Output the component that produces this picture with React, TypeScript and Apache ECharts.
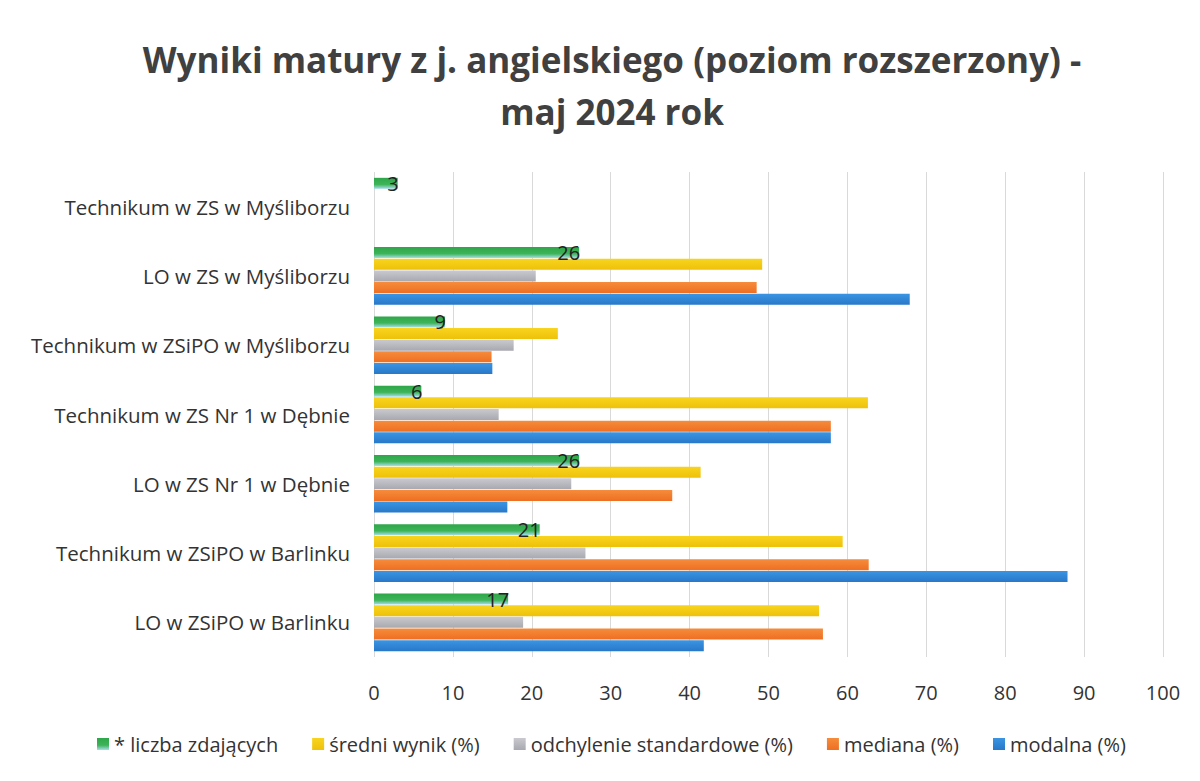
import React, { useEffect, useRef } from "react";
import * as echarts from "echarts";

const categories = [
  "LO w ZSiPO w Barlinku",
  "Technikum w ZSiPO w Barlinku",
  "LO w ZS Nr 1 w Dębnie",
  "Technikum w ZS Nr 1 w Dębnie",
  "Technikum w ZSiPO w Myśliborzu",
  "LO w ZS w Myśliborzu",
  "Technikum w ZS w Myśliborzu",
];
const liczbaZdajacych = [17, 21, 26, 6, 9, 26, 3];
const sredniWynik = [56.4, 59.4, 41.4, 62.6, 23.3, 49.2, null];
const odchylenie = [18.9, 26.8, 25.0, 15.8, 17.7, 20.5, null];
const mediana = [56.9, 62.7, 37.8, 57.9, 14.9, 48.5, null];
const modalna = [41.8, 87.9, 16.9, 57.9, 15.0, 67.9, null];
const xTicks = { min: 0, max: 100, interval: 10 };

const FONT = "'Open Sans', 'Noto Sans', sans-serif";

export default function App() {
  const ref = useRef<HTMLDivElement>(null);
  useEffect(() => {
    if (!ref.current) return;
    const chart = echarts.init(ref.current, null, { renderer: "svg" });
    const lg = (stops: [number, string][]) =>
      new echarts.graphic.LinearGradient(
        0,
        0,
        0,
        1,
        stops.map(([offset, color]) => ({ offset, color }))
      );
    const BW = 11;
    chart.setOption({
      animation: false,
      backgroundColor: "#ffffff",
      title: {
        text: "Wyniki matury z j. angielskiego (poziom rozszerzony) -\nmaj 2024 rok",
        left: 599,
        top: 20,
        textAlign: "center",
        textStyle: {
          fontFamily: FONT,
          fontWeight: "bold",
          fontSize: 35,
          color: "#404040",
          lineHeight: 52,
        },
      },
      legend: {
        bottom: 14,
        left: 84,
        itemWidth: 12,
        itemHeight: 12,
        itemGap: 34,
        icon: "rect",
        textStyle: { fontFamily: FONT, fontSize: 20, color: "#333" },
        data: [
          "* liczba zdających",
          "średni wynik (%)",
          "odchylenie standardowe (%)",
          "mediana (%)",
          "modalna (%)",
        ],
      },
      grid: { left: 366, right: 29, top: 164, bottom: 116, containLabel: false },
      xAxis: {
        type: "value",
        min: xTicks.min,
        max: xTicks.max,
        interval: xTicks.interval,
        axisLine: { show: false },
        axisTick: { show: false },
        axisLabel: { fontFamily: FONT, fontSize: 20, color: "#333", margin: 25 },
        splitLine: { lineStyle: { color: "#d9d9d9" } },
      },
      yAxis: {
        type: "category",
        data: categories,
        axisLine: { show: false },
        axisTick: { show: false },
        axisLabel: { fontFamily: FONT, fontSize: 20.5, color: "#333", margin: 24 },
      },
      series: [
        {
          name: "* liczba zdających",
          type: "bar",
          data: liczbaZdajacych,
          barWidth: BW,
          barGap: "6%",
          itemStyle: {
            color: lg([
              [0, "#2ea64a"],
              [0.6, "#3db457"],
              [1, "#a9dcf0"],
            ]),
          },
          label: {
            show: true,
            position: "insideRight",
            offset: [6, 0],
            fontFamily: FONT,
            fontSize: 20,
            color: "#222",
          },
        },
        {
          name: "średni wynik (%)",
          type: "bar",
          data: sredniWynik,
          barWidth: BW,
          itemStyle: { color: lg([[0, "#f8d41e"], [1, "#eec10a"]]) },
        },
        {
          name: "odchylenie standardowe (%)",
          type: "bar",
          data: odchylenie,
          barWidth: BW,
          itemStyle: { color: lg([[0, "#c9c9cf"], [1, "#a8a8b0"]]) },
        },
        {
          name: "mediana (%)",
          type: "bar",
          data: mediana,
          barWidth: BW,
          itemStyle: { color: lg([[0, "#f68c3c"], [1, "#ee6f22"]]) },
        },
        {
          name: "modalna (%)",
          type: "bar",
          data: modalna,
          barWidth: BW,
          itemStyle: { color: lg([[0, "#3b95e2"], [1, "#2878c8"]]) },
        },
      ],
    });
    return () => chart.dispose();
  }, []);
  return <div ref={ref} style={{ width: 1184, height: 765 }} />;
}
